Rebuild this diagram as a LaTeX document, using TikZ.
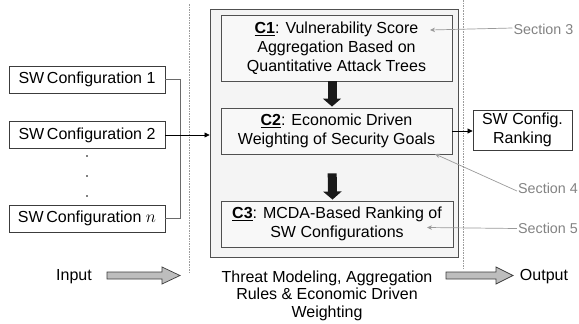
\documentclass[tikz,border=0pt]{standalone}
\usepackage{fontspec}
\setmainfont{Liberation Sans}
\usetikzlibrary{arrows.meta}
\definecolor{boxline}{HTML}{3C3C3C}
\definecolor{coreline}{HTML}{505050}
\definecolor{corefill}{HTML}{F4F4F4}
\definecolor{feedline}{HTML}{6A6A6A}
\definecolor{secgray}{HTML}{828282}
\definecolor{secline}{HTML}{9A9A9A}
\definecolor{sepgray}{HTML}{9C9C9C}
\definecolor{fatfill}{HTML}{BDBDBD}

\begin{document}
\begin{tikzpicture}[x=1pt,y=-1pt,
  font=\fontsize{16}{19}\selectfont,
  swbox/.style={draw=boxline, line width=0.8pt, fill=white, inner sep=0pt,
                minimum width=156pt, minimum height=27pt},
  corebox/.style={draw=coreline, line width=0.9pt, fill=corefill, inner sep=0pt},
  cbox/.style={draw=coreline, line width=0.9pt, fill=corefill!60!white, inner sep=0pt, align=center},
  separator/.style={draw=sepgray, line width=1pt, dash pattern=on 1.6pt off 1pt},
  feed/.style={draw=feedline, line width=0.9pt},
  thin arrow/.style={draw=black, line width=0.7pt, -{Triangle[width=5pt,length=5pt]}},
  flow/.style={draw=black!90, line width=9pt, -{Triangle[width=18pt,length=8pt]}},
  seclabel/.style={text=secgray, font=\fontsize{14.3}{16}\selectfont, inner sep=1pt},
  secarrow/.style={draw=secline, line width=0.7pt, -{Stealth[width=4.5pt,length=5pt]}},
  fat/.style={draw=boxline, line width=0.7pt, fill=fatfill},
  caption/.style={align=center, font=\fontsize{16}{17.5}\selectfont}
]
\useasboundingbox (0,0) rectangle (579,324);

% dotted separators between input, core and output
\draw[separator] (189,4) -- (189,272);
\draw[separator] (463,0) -- (463,268);

% software configurations
\node[swbox] (sw1) at (87,79.5) {SW\,Configuration 1};
\node[swbox] (sw2) at (87,135) {SW\,Configuration 2};
\node[swbox] (swn) at (87,218.5) {SW\,Configuration $n$};
\foreach \yy [count=\i] in {156,176,196}
  \fill (87,\yy) circle (0.9pt);

% core contribution frame
\node[corebox, minimum width=248pt, minimum height=248pt] (core) at (334,133) {};

\node[cbox, minimum width=231pt, minimum height=66pt] (c1) at (336.5,48)
  {\underline{\textbf{C1}}: Vulnerability Score\\Aggregation Based on\\Quantitative Attack Trees};
\node[cbox, minimum width=231pt, minimum height=46pt] (c2) at (336.5,131)
  {\underline{\textbf{C2}}: Economic Driven\\Weighting of Security Goals};
\node[cbox, minimum width=232pt, minimum height=46pt] (c3) at (337,224)
  {\underline{\textbf{C3}}: MCDA-Based Ranking of\\SW Configurations};

% result
\node[swbox, minimum width=99pt, minimum height=40pt, align=center, font=\fontsize{16}{19}\selectfont]
  (rank) at (522.5,130) {SW Config.\\Ranking};

% feeding the configurations into the core
\coordinate (bus) at (180,0);
\draw[feed] (sw1.east) -| (bus |- swn.east) -- (swn.east);
\draw[thin arrow] (sw2.east) -- (core.west |- sw2.east);
\draw[thin arrow] (c2.east) -- (rank.west |- c2.east);

% flow between the contributions
\draw[flow, shorten <=0pt, shorten >=1pt] ([xshift=-4.5pt]c1.south) -- ([xshift=-4.5pt]c2.north);
\draw[flow, shorten <=19pt, shorten >=1pt] ([xshift=-4.5pt]c2.south) -- ([xshift=-4.5pt]c3.north);

% section references
\node[seclabel] (s3) at (543.5,29) {Section 3};
\node[seclabel] (s4) at (548,188) {Section 4};
\node[seclabel] (s5) at (548,228) {Section 5};
\coordinate (t3) at (430,30);
\coordinate (t4) at (435,154);
\coordinate (t5) at (427,227.5);
\draw[secarrow] ([yshift=1pt]s3.west) -- (t3);
\draw[secarrow] ([yshift=-3pt]s4.west) -- (t4);
\draw[secarrow] ([yshift=-0.5pt]s5.west) -- (t5);

% input / output labels with block arrows
\node (in) at (74,277) {Input};
\node (out) at (544,277) {Output};
\draw[fat] (107,272) -- (162,272) -- (162,267) -- (180,275.5) -- (162,284) -- (162,279) -- (107,279) -- cycle;
\draw[fat] (446,272) -- (496,272) -- (496,267) -- (513,275.5) -- (496,284) -- (496,279) -- (446,279) -- cycle;

\node[caption, anchor=north] (cap) at (327,267)
  {Threat Modeling, Aggregation\\Rules \& Economic Driven\\Weighting};
\end{tikzpicture}
\end{document}
